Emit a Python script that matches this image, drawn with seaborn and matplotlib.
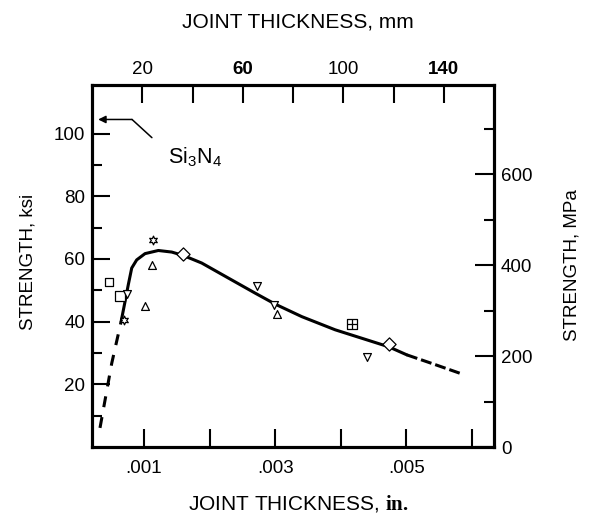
import numpy as np
import pandas as pd
import matplotlib
matplotlib.use("Agg")
import matplotlib.pyplot as plt
import seaborn as sns

# joint thickness (in.) vs strength (ksi)
square_x = [0.000466]
square_y = [52.6]
big_square_x = [0.000634]
big_square_y = [48.2]
tri_up_x = [0.001015, 0.001117, 0.003026]
tri_up_y = [45.0, 58.1, 42.5]
tri_down_x = [0.000745, 0.00272, 0.00299, 0.0044]
tri_down_y = [48.9, 51.4, 45.4, 28.8]
star_x = [0.000700, 0.001142]
star_y = [40.6, 66.1]
diamond_x = [0.0016, 0.00473]
diamond_y = [61.7, 32.8]
boxplus_x = [0.00418]
boxplus_y = [39.2]

# fitted curve: dashed start, solid middle, dashed tail
dash1_x = [0.000328, 0.000507, 0.00065]
dash1_y = [6.1, 26.7, 40.0]
solid_x = [0.00065, 0.00071, 0.00076, 0.000812, 0.000888, 0.001015, 0.001218, 0.001423,
           0.0016, 0.00188, 0.002287, 0.002695, 0.003, 0.003407, 0.003916, 0.004323,
           0.00473, 0.00501]
solid_y = [40.0, 46.4, 51.8, 57.1, 59.7, 61.7, 62.7, 62.2,
           61.1, 58.7, 53.9, 49.1, 45.6, 41.6, 37.4, 34.7,
           32.0, 29.4]
dash2_x = [0.00501, 0.0054, 0.005824]
dash2_y = [29.4, 26.6, 23.5]

# Si3N4 callout
note_x = [0.00112, 0.000817, 0.0003]
note_y = [98.7, 104.5, 104.5]

bottom_ticks = [0.001, 0.002, 0.003, 0.004, 0.005, 0.006]
bottom_labels = ['.001', '', '.003', '', '.005', '']
top_ticks = [20, 40, 60, 80, 100, 120, 140]
top_labels = ['20', '', '60', '', '100', '', '140']
ksi_major = [20, 40, 60, 80, 100]
ksi_minor = [10, 30, 50, 70, 90]
mpa_major = [0, 200, 400, 600]
mpa_minor = [100, 300, 500, 700]

sns.set_style("ticks")
plt.rcParams['font.family'] = ['Liberation Sans', 'DejaVu Sans']
plt.rcParams['mathtext.fontset'] = 'custom'
plt.rcParams['mathtext.rm'] = 'Liberation Sans'
plt.rcParams['mathtext.bf'] = 'Liberation Serif:bold'
plt.rcParams['mathtext.default'] = 'regular'
for k in ['text.color', 'axes.labelcolor', 'xtick.color', 'ytick.color', 'axes.edgecolor']:
    plt.rcParams[k] = 'black'

fig = plt.figure(figsize=(5.92, 5.24), dpi=100)
ax = fig.add_axes([0.1554, 0.1469, 0.6791, 0.6909])

lw = 2.2
sns.lineplot(x=solid_x, y=solid_y, sort=False, estimator=None, color='black', lw=lw, ax=ax)
for xs, ys, dsh in [(dash1_x, dash1_y, (3.6, 3.3)), (dash2_x, dash2_y, (3.6, 1.3))]:
    sns.lineplot(x=xs, y=ys, sort=False, estimator=None, color='black', lw=lw,
                 ax=ax).lines[-1].set_dashes(dsh)

mk = dict(color='white', edgecolor='black', linewidth=0.9, zorder=4, ax=ax)
sns.scatterplot(x=square_x, y=square_y, marker='s', s=38, **mk)
sns.scatterplot(x=big_square_x, y=big_square_y, marker='s', s=60, **mk)
sns.scatterplot(x=tri_up_x, y=tri_up_y, marker='^', s=32, **mk)
sns.scatterplot(x=tri_down_x, y=tri_down_y, marker='v', s=32, **mk)
sns.scatterplot(x=star_x, y=star_y, marker=(6, 1, 0), s=40, **mk)
sns.scatterplot(x=diamond_x, y=diamond_y, marker='D', s=45, **mk)
sns.scatterplot(x=boxplus_x, y=boxplus_y, marker='s', s=45, **mk)
sns.scatterplot(x=boxplus_x, y=boxplus_y, marker='+', s=45, color='black', edgecolor='black',
                linewidth=0.9, zorder=5, ax=ax)

# callout arrow
ax.plot(note_x[:2], note_y[:2], color='black', lw=1.1)
ax.annotate('', xy=(note_x[2], note_y[2]), xytext=(note_x[1], note_y[1]),
            arrowprops=dict(arrowstyle='-|>', color='black', lw=1.1, mutation_scale=11,
                            shrinkA=0, shrinkB=0))
ax.text(0.00137, 92.5, r'Si$_3$N$_4$', fontsize=15.5, va='center', ha='left')

ax.set_xlim(0.000206, 0.00634)
ax.set_ylim(0, 115.5)
ax.set_xticks(bottom_ticks)
ax.set_xticklabels(bottom_labels)
ax.set_yticks(ksi_major)
ax.set_yticks(ksi_minor, minor=True)
ax.tick_params(which='both', direction='in', width=1.5, labelsize=13.5, pad=5)
ax.tick_params(which='major', length=13)
ax.tick_params(which='minor', length=7)
ax.tick_params(axis='x', pad=9)
ax.set_ylabel('STRENGTH, ksi', fontsize=13.5)
ax.yaxis.set_label_coords(-0.137, 0.51)
ax.set_xlabel(r'JOINT THICKNESS, $\mathbf{in.}$', fontsize=15)
ax.xaxis.set_label_coords(0.5124, -0.128)

# MPa on the right
axr = ax.twinx()
axr.set_ylim(0, 115.5 * 6.895)
axr.set_yticks(mpa_major)
axr.set_yticks(mpa_minor, minor=True)
axr.tick_params(which='both', direction='in', width=1.5, labelsize=13.5, pad=5)
axr.tick_params(which='major', length=14)
axr.tick_params(which='minor', length=7)
axr.set_ylabel('STRENGTH, MPa', fontsize=13.5)
axr.yaxis.set_label_coords(1.1716, 0.503)

# mm on top
axt = ax.twiny()
axt.set_xlim(0, 160)
axt.set_xticks(top_ticks)
axt.set_xticklabels(top_labels)
axt.tick_params(which='both', direction='in', width=1.5, length=13, labelsize=13.5, pad=5)
for i, t in enumerate(axt.get_xticklabels()):
    if top_labels[i] in ('60', '140'):
        t.set_fontweight('bold')
axt.set_xlabel('JOINT THICKNESS, mm', fontsize=15)
axt.xaxis.set_label_coords(0.5124, 1.158)

for a in (ax, axr, axt):
    for sp in a.spines.values():
        sp.set_linewidth(2.2)
        sp.set_visible(True)

fig.savefig('out.png', dpi=100)
